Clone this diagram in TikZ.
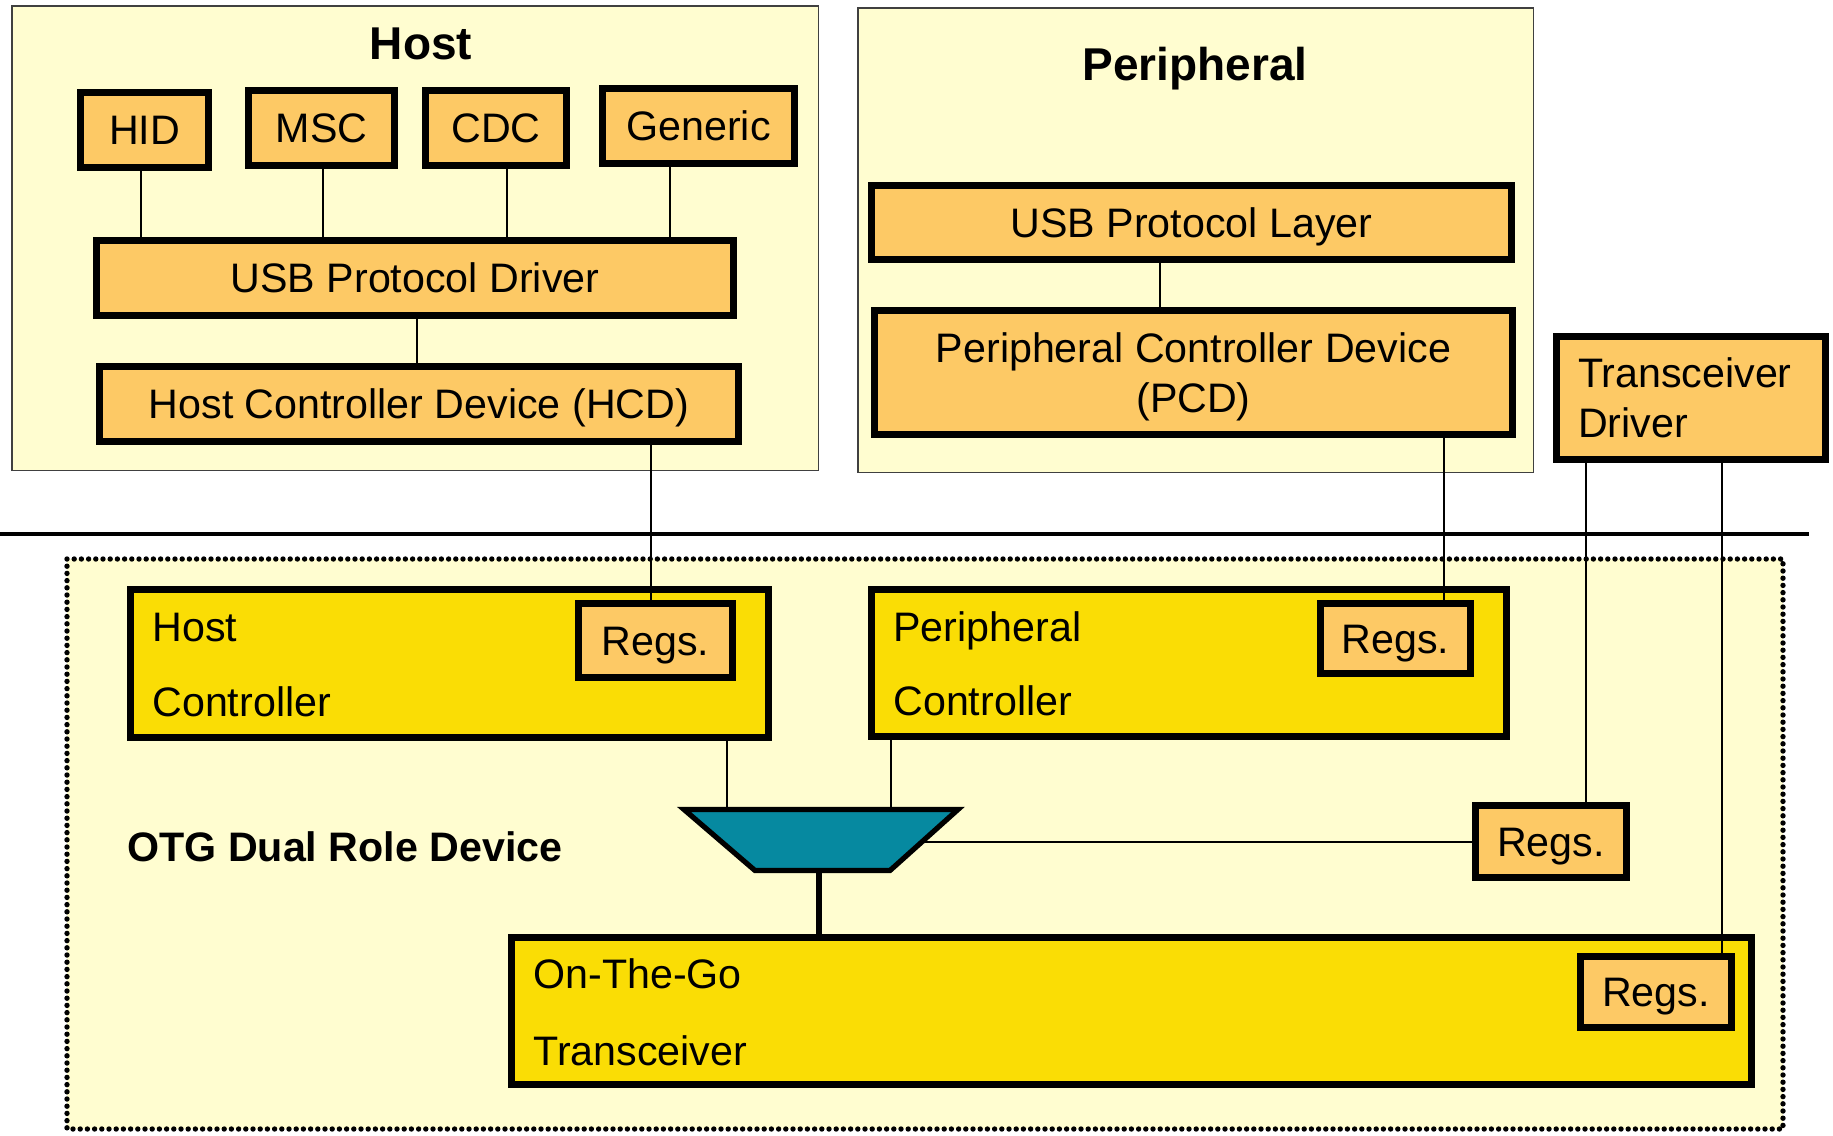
\documentclass[tikz,border=0pt]{standalone}
\usepackage{fontspec}
\setmainfont{Liberation Sans}
\definecolor{paleyel}{HTML}{FFFDD0}
\definecolor{orangebox}{HTML}{FDC965}
\definecolor{goldbox}{HTML}{FADD05}
\definecolor{muxteal}{HTML}{0689A0}
\newcommand\fnorm{\fontsize{20.6pt}{25pt}\selectfont}
\newcommand\ftitle{\fontsize{23pt}{27pt}\selectfont\bfseries}
\newcommand\fotg{\fontsize{20.6pt}{25pt}\selectfont\bfseries}
% box from outer corners: name, x1, y1, x2, y2, style, text, line width (pt)
\newcommand\blk[8]{%
  \node[#6, line width=#8pt,
        minimum width={(#4-#2)*0.5pt-#8pt},
        minimum height={(#5-#3)*0.5pt-#8pt}]
        (#1) at ({(#2+#4)/2},{(#3+#5)/2}) {#7};}
\begin{document}
\begin{tikzpicture}[x=0.5pt,y=-0.5pt,
  region/.style={draw=black!75, fill=paleyel, inner sep=0pt, outer sep=0pt},
  obox/.style={draw=black, fill=orangebox, inner sep=0pt, outer sep=0pt, font=\fnorm,
               align=center, text height=14.8pt, text depth=0pt},
  twoline/.style={text height=, text depth=},
  gbox/.style={draw=black, fill=goldbox, inner sep=0pt, outer sep=0pt},
  wire/.style={line width=0.9pt},
  heavywire/.style={line width=2.6pt},
  lbl/.style={anchor=base west, inner sep=0pt, font=\fnorm},
  titlelbl/.style={anchor=base, inner sep=0pt, font=\ftitle},
  dotborder/.style={line width=2.7pt, dash pattern=on 0pt off 3.6pt, line cap=round}]
\useasboundingbox (0,0) rectangle (1833,1136);

% ---------- software regions ----------
\blk{hostreg}{11}{5}{819}{471}{region}{}{0.75}
\blk{perireg}{857}{7}{1534}{473}{region}{}{0.75}
\node[titlelbl] (hosttitle) at (421,59) {Host};
\node[titlelbl] (perititle) at (1195,80) {Peripheral};

% ---------- separator ----------
\draw[line width=2.25pt] (0,534) -- (1809,534);

% ---------- OTG hardware region ----------
\path[fill=paleyel] (67,559) rectangle (1783,1129);
\draw[dotborder] (67,559) rectangle (1783,1129);
\node[anchor=base west, inner sep=0pt, font=\fotg] (otgtitle) at (127,861) {OTG Dual Role Device};

% ---------- host stack ----------
\blk{hid}{77}{89}{212}{171}{obox}{HID}{3.5}
\blk{msc}{245}{87}{398}{169}{obox}{MSC}{3.5}
\blk{cdc}{422}{87}{570}{169}{obox}{CDC}{3.5}
\blk{gen}{599}{85}{798}{167}{obox}{Generic}{3.5}
\blk{upd}{93}{237}{737}{319}{obox}{USB Protocol Driver}{3.5}
\blk{hcd}{96}{363}{742}{445}{obox}{Host Controller Device (HCD)}{3.5}

% ---------- peripheral stack ----------
\blk{upl}{868}{182}{1515}{263}{obox}{USB Protocol Layer}{3.5}
\blk{pcd}{871}{307}{1516}{438}{obox, twoline}{Peripheral Controller Device\\\raisebox{0pt}[\height][0pt]{(PCD)}}{3.5}

% ---------- transceiver driver ----------
\blk{td}{1553}{333}{1829}{463}{obox, twoline, align=left, text width=113pt}{Transceiver\\Driver}{3.5}

% ---------- controllers ----------
\blk{hc}{127}{586}{772}{741}{gbox}{}{3.6}
\blk{hregs}{575}{600}{736}{681}{obox}{Regs.}{3.6}
\node[lbl] (hclbla) at (152,641) {Host};
\node[lbl] (hclblb) at (152,716) {Controller};

\blk{pc}{868}{586}{1510}{740}{gbox}{}{3.6}
\blk{pregs}{1317}{600}{1474}{677}{obox}{Regs.}{3.6}
\node[lbl] (pclbla) at (893,641) {Peripheral};
\node[lbl] (pclblb) at (893,715) {Controller};

% ---------- role multiplexer ----------
\coordinate (mTL) at (684,809.5);
\coordinate (mTR) at (958,809.5);
\coordinate (mBR) at (890,870.5);
\coordinate (mBL) at (755,870.5);
\coordinate (mE) at (922,842);
\draw[line width=2.6pt, fill=muxteal, line join=miter] (mTL) -- (mTR) -- (mBR) -- (mBL) -- cycle;
\blk{mregs}{1472}{802}{1630}{881}{obox}{Regs.}{3.6}

% ---------- transceiver ----------
\blk{otg}{508}{934}{1755}{1088}{gbox}{}{3.6}
\blk{oregs}{1577}{953}{1735}{1031}{obox}{Regs.}{3.6}
\node[lbl] (otglbla) at (533,988) {On-The-Go};
\node[lbl] (otglblb) at (533,1065) {Transceiver};

% ---------- connectors ----------
\draw[wire] (hid.south -| 141,0) -- (upd.north -| 141,0);
\draw[wire] (msc.south -| 323,0) -- (upd.north -| 323,0);
\draw[wire] (cdc.south -| 507,0) -- (upd.north -| 507,0);
\draw[wire] (gen.south -| 670,0) -- (upd.north -| 670,0);
\draw[wire] (upd.south -| 417,0) -- (hcd.north -| 417,0);
\draw[wire] (hcd.south -| 651,0) -- (hregs.north -| 651,0);
\draw[wire] (upl.south -| 1160,0) -- (pcd.north -| 1160,0);
\draw[wire] (pcd.south -| 1444,0) -- (pregs.north -| 1444,0);
\draw[wire] (td.south -| 1586,0) -- (mregs.north -| 1586,0);
\draw[wire] (td.south -| 1722,0) -- (oregs.north -| 1722,0);
\draw[wire] (hc.south -| 727,0) -- (mTL -| 727,0);
\draw[wire] (pc.south -| 891,0) -- (mTL -| 891,0);
\draw[wire] (mE) -- (mregs.west |- mE);
\draw[heavywire] (mBL -| 819,0) -- (otg.north -| 819,0);
\end{tikzpicture}
\end{document}
